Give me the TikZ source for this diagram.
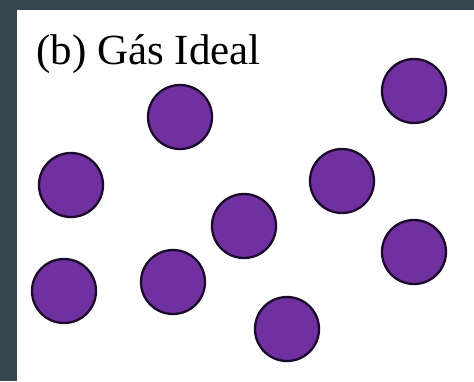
\documentclass[tikz,border=0pt]{standalone}
\usepackage{fontspec}
\setmainfont{Liberation Serif}
\usetikzlibrary{positioning}

\definecolor{frameslate}{HTML}{37474F}
\definecolor{gaspurple}{HTML}{7030A0}
\definecolor{gasedge}{HTML}{1C0A2C}

\begin{document}
\begin{tikzpicture}[
    x=1pt, y=-1pt,
    % Define styles
    particle/.style={circle, draw=gasedge, fill=gaspurple, line width=2.3pt, minimum size=64pt, inner sep=0pt},
    caption/.style={anchor=base west, inner sep=0pt, font=\fontsize{43}{48}\selectfont}
]

    % --- FRAME ---
    \useasboundingbox (0,0) rectangle (474,381);
    \fill[frameslate] (0,0) rectangle (474,381);
    \fill[white] (17,10) rectangle (474,381);

    % --- TITLE ---
    \node (title) [caption] at (36,64) {(b) Gás Ideal};

    % --- PARTICLES ---
    \foreach \n/\px/\py in {1/180/117, 2/414/91, 3/71/185, 4/342/181, 5/244/226,
                            6/414/252, 7/64/291, 8/173/282, 9/287/329}
        \node (particle\n) [particle] at (\px,\py) {};

\end{tikzpicture}
\end{document}
